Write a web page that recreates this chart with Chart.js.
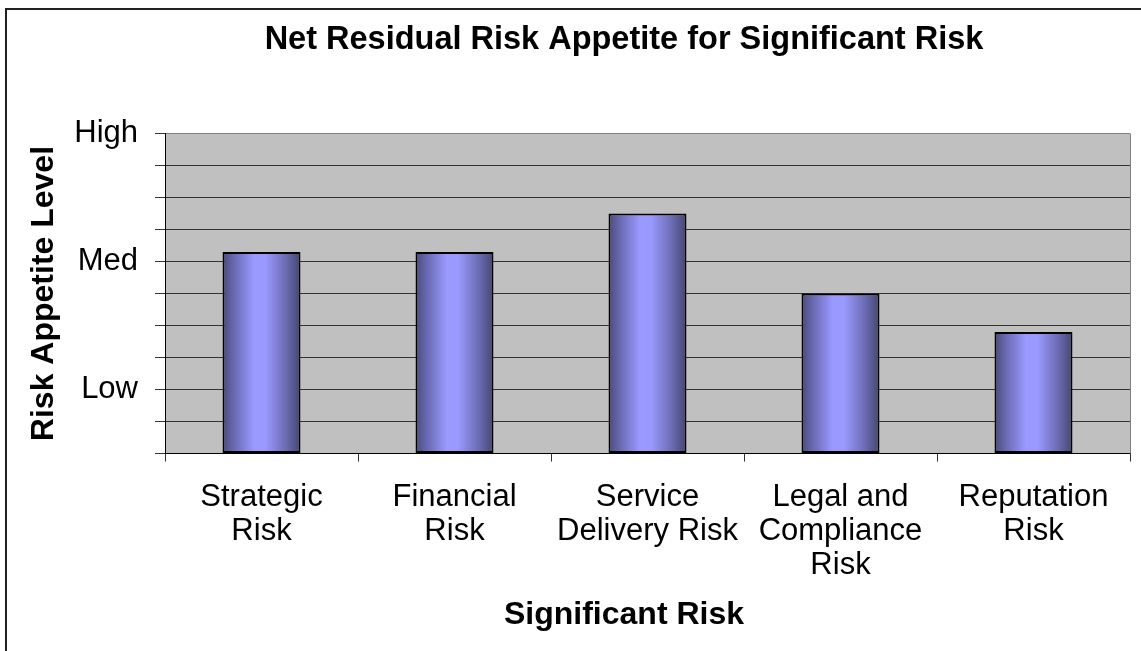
<!DOCTYPE html>
<html>
<head>
<meta charset="utf-8">
<title>Net Residual Risk Appetite for Significant Risk</title>
<script src="https://cdn.jsdelivr.net/npm/chart.js@4.4.1/dist/chart.umd.min.js"></script>
<style>
  html, body { margin: 0; padding: 0; background: #fff; overflow: hidden; }
  #wrap { width: 1248px; height: 651px; }
</style>
</head>
<body>
<div id="wrap"><canvas id="chart" width="1248" height="651"></canvas></div>
<script>
// data (scale 0-10, Low=2, Med=6, High=10)
const categories = [
  ["Strategic", "Risk"],
  ["Financial", "Risk"],
  ["Service", "Delivery Risk"],
  ["Legal and", "Compliance", "Risk"],
  ["Reputation", "Risk"]
];
const appetiteValues = [6.3, 6.3, 7.5, 5.0, 3.8];
const levelTicks = { 2: "Low", 6: "Med", 10: "High" };

const FONT = "'Liberation Sans', Arial, sans-serif";
const BAR_PCT = 0.404;

Chart.defaults.font.family = FONT;
Chart.defaults.color = "#000";

// cylinder-ish shading across each bar
function barGradient(context) {
  const chart = context.chart;
  const x = chart.scales.x;
  if (!x || !x.width || context.dataIndex === undefined) return "#9999ff";
  const cx = x.getPixelForValue(context.dataIndex);
  const w = (x.width / categories.length) * BAR_PCT;
  const g = chart.ctx.createLinearGradient(cx - w / 2, 0, cx + w / 2, 0);
  g.addColorStop(0, "#4a4a7c");
  g.addColorStop(0.15, "#6a6ab2");
  g.addColorStop(0.4, "#9999ff");
  g.addColorStop(0.55, "#9999ff");
  g.addColorStop(0.8, "#6e6eb6");
  g.addColorStop(1, "#454575");
  return g;
}

const backdrop = {
  id: "backdrop",
  beforeDraw(chart) {
    const { ctx, chartArea: a } = chart;
    ctx.save();
    ctx.fillStyle = "#c0c0c0";
    ctx.fillRect(a.left, a.top, a.right - a.left, a.bottom - a.top);
    // outer frame (cropped on the right and bottom like the original)
    ctx.strokeStyle = "#222";
    ctx.lineWidth = 2;
    ctx.beginPath();
    ctx.moveTo(6, 651);
    ctx.lineTo(6, 9);
    ctx.lineTo(1248, 9);
    ctx.stroke();
    ctx.restore();
  },
  afterDatasetsDraw(chart) {
    const { ctx, chartArea: a } = chart;
    ctx.save();
    ctx.strokeStyle = "#808080";
    ctx.lineWidth = 1;
    ctx.beginPath();
    ctx.moveTo(Math.round(a.right) + 0.5, a.top);
    ctx.lineTo(Math.round(a.right) + 0.5, a.bottom);
    ctx.stroke();
    ctx.restore();
  }
};

new Chart(document.getElementById("chart"), {
  type: "bar",
  data: {
    labels: categories,
    datasets: [{
      label: "Risk Appetite Level",
      data: appetiteValues,
      backgroundColor: barGradient,
      borderColor: "#000",
      borderWidth: 2,
      borderSkipped: false,
      barPercentage: BAR_PCT,
      categoryPercentage: 1
    }]
  },
  options: {
    responsive: false,
    animation: false,
    devicePixelRatio: 1,
    layout: { padding: 0 },
    plugins: {
      legend: { display: false },
      tooltip: { enabled: false },
      title: {
        display: true,
        text: "Net Residual Risk Appetite for Significant Risk",
        color: "#000",
        font: { size: 32.5, weight: "bold", lineHeight: 1.2 },
        padding: { top: 21, bottom: 73.5 }
      },
      subtitle: {
        display: true,
        position: "bottom",
        text: "Significant Risk",
        color: "#000",
        font: { size: 32, weight: "bold", lineHeight: 1.2 },
        padding: { top: 0, bottom: 17 }
      }
    },
    scales: {
      x: {
        afterFit(scale) { scale.height = 142; },
        grid: {
          offset: true,
          drawOnChartArea: false,
          drawTicks: true,
          tickLength: 8,
          color: "#333"
        },
        border: { color: "#000", width: 1 },
        ticks: {
          padding: 19,
          maxRotation: 0,
          autoSkip: false,
          font: { size: 31, lineHeight: 1.1 }
        }
      },
      y: {
        min: 0,
        max: 10,
        afterFit(scale) { scale.width = 165; },
        grid: {
          color: (c) => (c.tick && c.tick.value === 10 ? "#808080" : "#333"),
          tickColor: "#333",
          tickLength: 10
        },
        border: { color: "#000", width: 1 },
        ticks: {
          stepSize: 1,
          padding: 17,
          autoSkip: false,
          font: { size: 31 },
          callback: (v) => levelTicks[v] || ""
        },
        title: {
          display: true,
          text: "Risk Appetite Level",
          color: "#000",
          font: { size: 32, weight: "bold", lineHeight: 1.2 },
          padding: { top: 25, bottom: 0 }
        }
      },
      // empty spacer on the right: the frame continues past the cropped edge
      spacer: {
        type: "linear",
        position: "right",
        afterFit(scale) { scale.width = 118; },
        grid: { display: false, drawOnChartArea: false },
        border: { display: false },
        ticks: { display: false }
      }
    }
  },
  plugins: [backdrop]
});
</script>
</body>
</html>
